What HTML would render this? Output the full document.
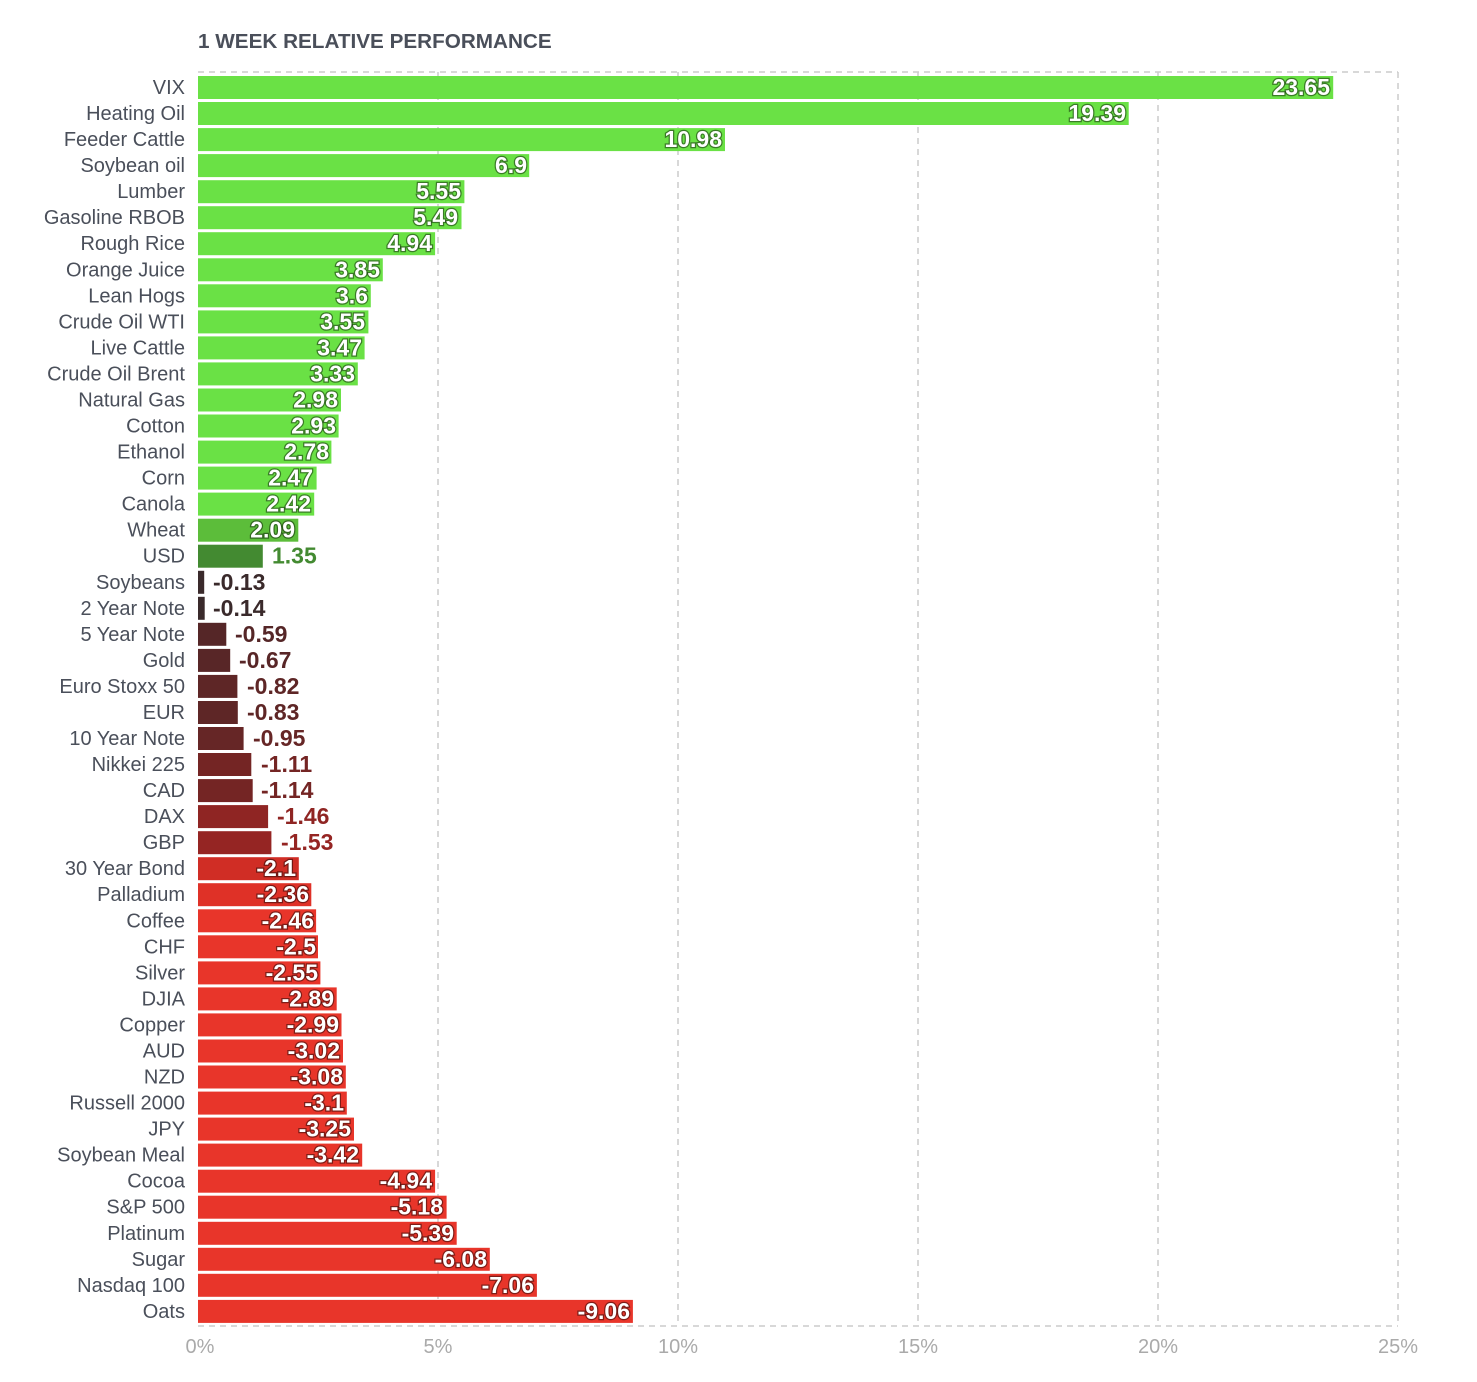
<!DOCTYPE html>
<html><head><meta charset="utf-8"><style>
html,body{margin:0;padding:0;background:#fff;}
svg{display:block;font-family:"Liberation Sans",sans-serif;}
.l{font-size:20px;fill:#4a4f5a;text-anchor:end;}
.vi{font-size:23px;font-weight:bold;fill:#fff;text-anchor:end;stroke:rgba(0,0,0,0.45);stroke-width:2.5px;paint-order:stroke;}
.vo{font-size:23px;font-weight:bold;}
.t{font-size:20px;fill:#aaa;text-anchor:middle;}
</style></head><body>
<svg width="1477" height="1382" viewBox="0 0 1477 1382">
<text x="198" y="48" style="font-size:20.7px;font-weight:bold;fill:#4a4f5a">1 WEEK RELATIVE PERFORMANCE</text>
<g stroke="#ccc" stroke-width="1.5" stroke-dasharray="6,5" fill="none">
<line x1="198" y1="72" x2="1398" y2="72"/>
<line x1="198" y1="1326" x2="1398" y2="1326"/>
<line x1="438" y1="72" x2="438" y2="1326"/>
<line x1="678" y1="72" x2="678" y2="1326"/>
<line x1="918" y1="72" x2="918" y2="1326"/>
<line x1="1158" y1="72" x2="1158" y2="1326"/>
<line x1="1398" y1="72" x2="1398" y2="1326"/>
</g>
<text class="t" x="200" y="1353">0%</text>
<text class="t" x="438" y="1353">5%</text>
<text class="t" x="678" y="1353">10%</text>
<text class="t" x="918" y="1353">15%</text>
<text class="t" x="1158" y="1353">20%</text>
<text class="t" x="1398" y="1353">25%</text>

<g fill="#6ae145">
<rect x="198" y="76" width="1135.2" height="23"/>
<rect x="198" y="102" width="930.7" height="23"/>
<rect x="198" y="128.1" width="527" height="23"/>
<rect x="198" y="154.1" width="331.2" height="23"/>
<rect x="198" y="180.2" width="266.4" height="23"/>
<rect x="198" y="206.2" width="263.5" height="23"/>
<rect x="198" y="232.2" width="237.1" height="23"/>
<rect x="198" y="258.3" width="184.8" height="23"/>
<rect x="198" y="284.3" width="172.8" height="23"/>
<rect x="198" y="310.4" width="170.4" height="23"/>
<rect x="198" y="336.4" width="166.6" height="23"/>
<rect x="198" y="362.4" width="159.8" height="23"/>
<rect x="198" y="388.5" width="143" height="23"/>
<rect x="198" y="414.5" width="140.6" height="23"/>
<rect x="198" y="440.6" width="133.4" height="23"/>
<rect x="198" y="466.6" width="118.6" height="23"/>
<rect x="198" y="492.6" width="116.2" height="23"/>
</g>
<rect x="198" y="518.7" width="100.3" height="23" fill="#5cbd3a"/>
<rect x="198" y="544.7" width="64.8" height="23" fill="#438a31"/>
<rect x="198" y="570.8" width="6.2" height="23" fill="#3a2a2b"/>
<rect x="198" y="596.8" width="6.7" height="23" fill="#3a2a2b"/>
<rect x="198" y="622.8" width="28.3" height="23" fill="#552627"/>
<rect x="198" y="648.9" width="32.2" height="23" fill="#582627"/>
<rect x="198" y="674.9" width="39.4" height="23" fill="#5e2626"/>
<rect x="198" y="701" width="39.8" height="23" fill="#5e2626"/>
<rect x="198" y="727" width="45.6" height="23" fill="#662626"/>
<rect x="198" y="753" width="53.3" height="23" fill="#742524"/>
<rect x="198" y="779.1" width="54.7" height="23" fill="#742524"/>
<rect x="198" y="805.1" width="70.1" height="23" fill="#8f2523"/>
<rect x="198" y="831.2" width="73.4" height="23" fill="#952523"/>
<rect x="198" y="857.2" width="100.8" height="23" fill="#d02d25"/>
<rect x="198" y="883.2" width="113.3" height="23" fill="#df3127"/>
<g fill="#e8352a">
<rect x="198" y="909.3" width="118.1" height="23"/>
<rect x="198" y="935.3" width="120" height="23"/>
<rect x="198" y="961.4" width="122.4" height="23"/>
<rect x="198" y="987.4" width="138.7" height="23"/>
<rect x="198" y="1013.4" width="143.5" height="23"/>
<rect x="198" y="1039.5" width="145" height="23"/>
<rect x="198" y="1065.5" width="147.8" height="23"/>
<rect x="198" y="1091.6" width="148.8" height="23"/>
<rect x="198" y="1117.6" width="156" height="23"/>
<rect x="198" y="1143.6" width="164.2" height="23"/>
<rect x="198" y="1169.7" width="237.1" height="23"/>
<rect x="198" y="1195.7" width="248.6" height="23"/>
<rect x="198" y="1221.8" width="258.7" height="23"/>
<rect x="198" y="1247.8" width="291.8" height="23"/>
<rect x="198" y="1273.8" width="338.9" height="23"/>
<rect x="198" y="1299.9" width="434.9" height="23"/>
</g>

<g class="l">
<text x="185" y="94">VIX</text>
<text x="185" y="120">Heating Oil</text>
<text x="185" y="146.1">Feeder Cattle</text>
<text x="185" y="172.1">Soybean oil</text>
<text x="185" y="198.2">Lumber</text>
<text x="185" y="224.2">Gasoline RBOB</text>
<text x="185" y="250.2">Rough Rice</text>
<text x="185" y="276.3">Orange Juice</text>
<text x="185" y="302.3">Lean Hogs</text>
<text x="185" y="328.4">Crude Oil WTI</text>
<text x="185" y="354.4">Live Cattle</text>
<text x="185" y="380.4">Crude Oil Brent</text>
<text x="185" y="406.5">Natural Gas</text>
<text x="185" y="432.5">Cotton</text>
<text x="185" y="458.6">Ethanol</text>
<text x="185" y="484.6">Corn</text>
<text x="185" y="510.6">Canola</text>
<text x="185" y="536.7">Wheat</text>
<text x="185" y="562.7">USD</text>
<text x="185" y="588.8">Soybeans</text>
<text x="185" y="614.8">2 Year Note</text>
<text x="185" y="640.8">5 Year Note</text>
<text x="185" y="666.9">Gold</text>
<text x="185" y="692.9">Euro Stoxx 50</text>
<text x="185" y="719">EUR</text>
<text x="185" y="745">10 Year Note</text>
<text x="185" y="771">Nikkei 225</text>
<text x="185" y="797.1">CAD</text>
<text x="185" y="823.1">DAX</text>
<text x="185" y="849.2">GBP</text>
<text x="185" y="875.2">30 Year Bond</text>
<text x="185" y="901.2">Palladium</text>
<text x="185" y="927.3">Coffee</text>
<text x="185" y="953.3">CHF</text>
<text x="185" y="979.4">Silver</text>
<text x="185" y="1005.4">DJIA</text>
<text x="185" y="1031.4">Copper</text>
<text x="185" y="1057.5">AUD</text>
<text x="185" y="1083.5">NZD</text>
<text x="185" y="1109.6">Russell 2000</text>
<text x="185" y="1135.6">JPY</text>
<text x="185" y="1161.6">Soybean Meal</text>
<text x="185" y="1187.7">Cocoa</text>
<text x="185" y="1213.7">S&amp;P 500</text>
<text x="185" y="1239.8">Platinum</text>
<text x="185" y="1265.8">Sugar</text>
<text x="185" y="1291.8">Nasdaq 100</text>
<text x="185" y="1317.9">Oats</text>
</g>

<g class="vi">
<text x="1330" y="95">23.65</text>
<text x="1126" y="121">19.39</text>
<text x="722" y="147.1">10.98</text>
<text x="527" y="173.1">6.9</text>
<text x="461" y="199.2">5.55</text>
<text x="458" y="225.2">5.49</text>
<text x="432" y="251.2">4.94</text>
<text x="380" y="277.3">3.85</text>
<text x="368" y="303.3">3.6</text>
<text x="365" y="329.4">3.55</text>
<text x="362" y="355.4">3.47</text>
<text x="355" y="381.4">3.33</text>
<text x="338" y="407.5">2.98</text>
<text x="336" y="433.5">2.93</text>
<text x="329" y="459.6">2.78</text>
<text x="313" y="485.6">2.47</text>
<text x="311" y="511.6">2.42</text>
<text x="295" y="537.7">2.09</text>
<text x="296" y="876.2">-2.1</text>
<text x="309" y="902.2">-2.36</text>
<text x="314" y="928.3">-2.46</text>
<text x="316" y="954.3">-2.5</text>
<text x="318" y="980.4">-2.55</text>
<text x="334" y="1006.4">-2.89</text>
<text x="339" y="1032.4">-2.99</text>
<text x="340" y="1058.5">-3.02</text>
<text x="343" y="1084.5">-3.08</text>
<text x="344" y="1110.6">-3.1</text>
<text x="351" y="1136.6">-3.25</text>
<text x="359" y="1162.6">-3.42</text>
<text x="432" y="1188.7">-4.94</text>
<text x="443" y="1214.7">-5.18</text>
<text x="454" y="1240.8">-5.39</text>
<text x="487" y="1266.8">-6.08</text>
<text x="534" y="1292.8">-7.06</text>
<text x="630" y="1318.9">-9.06</text>
</g>

<g class="vo">
<text x="272" y="563.7" fill="#438a31">1.35</text>
<text x="213" y="589.8" fill="#3a2a2b">-0.13</text>
<text x="213" y="615.8" fill="#3a2a2b">-0.14</text>
<text x="235" y="641.8" fill="#552627">-0.59</text>
<text x="239" y="667.9" fill="#582627">-0.67</text>
<text x="247" y="693.9" fill="#5e2626">-0.82</text>
<text x="247" y="720" fill="#5e2626">-0.83</text>
<text x="253" y="746" fill="#662626">-0.95</text>
<text x="261" y="772" fill="#742524">-1.11</text>
<text x="261" y="798.1" fill="#742524">-1.14</text>
<text x="277" y="824.1" fill="#8f2523">-1.46</text>
<text x="281" y="850.2" fill="#952523">-1.53</text>
</g>
</svg>
</body></html>
